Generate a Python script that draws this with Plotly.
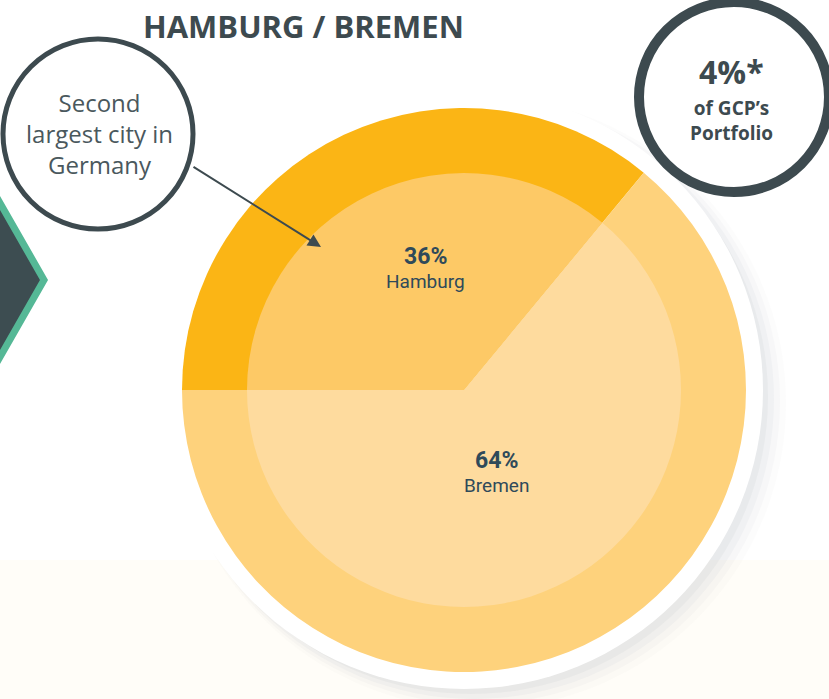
import plotly.graph_objects as go

W, H = 829, 699

cities = ["Hamburg", "Bremen"]
shares = [36, 64]
outer_colors = ["#FBB515", "#FED27C"]
inner_colors = ["#FDC966", "#FEDB9E"]

DARK = "#3D4A4F"
LABEL = "#2F4A5A"


def px(x):
    return x / W


def py(y):
    return 1 - y / H


def circle(cx, cy, r, **kw):
    return dict(type="circle", xref="paper", yref="paper",
                x0=px(cx - r), x1=px(cx + r), y0=py(cy + r), y1=py(cy - r), **kw)


cx, cy, r_out, r_in = 464, 390, 282, 217

fig = go.Figure()

fig.add_trace(go.Pie(
    labels=cities, values=shares, sort=False, direction="clockwise", rotation=270,
    marker=dict(colors=outer_colors, line=dict(width=0)),
    textinfo="none", hoverinfo="label+percent", showlegend=False,
    domain=dict(x=[px(cx - r_out), px(cx + r_out)], y=[py(cy + r_out), py(cy - r_out)]),
))
fig.add_trace(go.Pie(
    labels=cities, values=shares, sort=False, direction="clockwise", rotation=270,
    marker=dict(colors=inner_colors, line=dict(width=0)),
    textinfo="none", hoverinfo="skip", showlegend=False,
    domain=dict(x=[px(cx - r_in), px(cx + r_in)], y=[py(cy + r_in), py(cy - r_in)]),
))

shapes = []
# faint cream band at the bottom
shapes.append(dict(type="rect", xref="paper", yref="paper", x0=0, x1=1, y0=0, y1=py(560),
                   fillcolor="#FFFDF8", line_width=0, layer="below"))
# soft shadow (lower right) and white ring behind the pie
for i, a in enumerate([0.04, 0.06, 0.08, 0.11]):
    shapes.append(circle(cx + 16 - i * 3, cy + 13 - i * 2, 306 - i * 3,
                         fillcolor=f"rgba(170,178,186,{a})", line_width=0, layer="below"))
shapes.append(circle(cx, cy, 299, fillcolor="white", line_width=0, layer="below"))

# hexagon at the left edge
shapes.append(dict(type="path", xref="paper", yref="paper",
                   path=f"M {px(-20)},{py(168)} L {px(44)},{py(280)} L {px(-20)},{py(392)} Z",
                   fillcolor="#3D4D51", line=dict(color="#55B896", width=7)))

# callout circles
shapes.append(circle(98, 134, 95, fillcolor="white", line=dict(color=DARK, width=5)))
shapes.append(circle(734, 97, 95, fillcolor="white", line=dict(color=DARK, width=10)))

annotations = [
    dict(text="<b>HAMBURG / BREMEN</b>", x=px(303), y=py(26), font=dict(size=31, color=DARK, family="Open Sans")),
    dict(text="Second<br>largest city in<br>Germany", x=px(99), y=py(133),
         font=dict(size=24, color="#4A585D", family="Open Sans"), align="center"),
    dict(text="<b>4%*</b>", x=px(731), y=py(72), font=dict(size=32, color=DARK, family="Open Sans")),
    dict(text="<b>of GCP’s<br>Portfolio</b>", x=px(731), y=py(121),
         font=dict(size=19, color=DARK, family="Open Sans"), align="center"),
    dict(text=f"<b>{shares[0]}%</b>", x=px(425), y=py(257), font=dict(size=23, color=LABEL, family="Roboto")),
    dict(text=cities[0], x=px(425), y=py(282), font=dict(size=19, color=LABEL, family="Roboto")),
    dict(text=f"<b>{shares[1]}%</b>", x=px(496), y=py(460), font=dict(size=23, color=LABEL, family="Roboto")),
    dict(text=cities[1], x=px(496), y=py(486), font=dict(size=19, color=LABEL, family="Roboto")),
]
for a in annotations:
    a.update(xref="paper", yref="paper", showarrow=False, xanchor="center", yanchor="middle")

# arrow from the callout to the Hamburg slice
annotations.append(dict(x=px(321), y=py(247), xref="paper", yref="paper", text="",
                        showarrow=True, ax=-129, ay=-81, arrowhead=2, arrowsize=1.3,
                        arrowwidth=2, arrowcolor=DARK))

fig.update_layout(
    width=W, height=H, margin=dict(l=0, r=0, t=0, b=0),
    paper_bgcolor="white", plot_bgcolor="white",
    shapes=shapes, annotations=annotations,
)

fig.write_html("out.html", config={"displayModeBar": False},
               post_script="document.body.style.margin='0';")
